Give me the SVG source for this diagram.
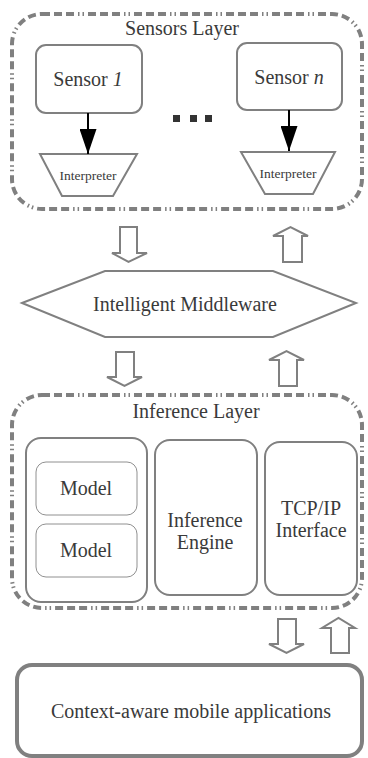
<svg xmlns="http://www.w3.org/2000/svg" width="368" height="758" viewBox="0 0 368 758" font-family="'Liberation Serif', 'DejaVu Serif', serif">
<defs>
<style>
.layer{fill:none;stroke:#808080;stroke-width:4;stroke-dasharray:8 4 8 4 8 4 1.5 3 1.5 4}
.box{fill:#fff;stroke:#808080;stroke-width:2}
.thin{fill:#fff;stroke:#909090;stroke-width:1}
.blk{fill:#fff;stroke:#808080;stroke-width:2;stroke-linejoin:miter}
text{font-family:'Liberation Serif','DejaVu Serif',serif;fill:#3a3a3a;text-anchor:middle}
.t20{font-size:20px}
.t13{font-size:13.5px}
</style>
<marker id="ah" viewBox="0 0 25 17" refX="25" refY="8.5" markerWidth="25" markerHeight="17" orient="auto" markerUnits="userSpaceOnUse">
<path d="M0,0 L25,8.5 L0,17 Z" fill="#000"/>
</marker>
</defs>

<g id="sensors-layer">
<rect class="layer" x="12" y="14" width="350" height="195" rx="30"/>
<text class="t20" x="182" y="35" font-family="'Liberation Serif', serif">Sensors Layer</text>
</g>
<g id="sensor1">
<rect class="box" x="36" y="45" width="106" height="68" rx="10"/>
<text class="t20" x="88" y="86" font-family="'Liberation Serif', serif">Sensor <tspan font-style="italic">1</tspan></text>
</g>
<g id="sensorn">
<rect class="box" x="237" y="43" width="105" height="67" rx="10"/>
<text class="t20" x="289" y="84" font-family="'Liberation Serif', serif">Sensor <tspan font-style="italic">n</tspan></text>
</g>
<g id="dots" fill="#333">
<rect x="173" y="115" width="7" height="7"/>
<rect x="190" y="115" width="7" height="7"/>
<rect x="205" y="115" width="7" height="7"/>
</g>
<g id="interpreter1">
<polygon class="box" points="40,154 137,154 113,196 62,196"/>
<text class="t13" x="88" y="180" font-family="'Liberation Serif', serif">Interpreter</text>
</g>
<g id="interpretern">
<polygon class="box" points="241,152 335,152 313,194 265,194"/>
<text class="t13" x="288" y="178" font-family="'Liberation Serif', serif">Interpreter</text>
</g>

<g id="middleware">
<polygon class="box" points="22,303 105,271 273,271 356,303 273,337 105,337"/>
<text class="t20" x="185" y="311" font-family="'Liberation Serif', serif">Intelligent Middleware</text>
</g>

<g id="inference-layer">
<rect class="layer" x="12" y="395" width="350" height="213" rx="30"/>
<text class="t20" x="196" y="418" font-family="'Liberation Serif', serif">Inference Layer</text>
</g>
<g id="models">
<rect class="box" x="26" y="438" width="121" height="164" rx="15"/>
</g>
<g id="model1">
<rect class="thin" x="36" y="462" width="101" height="53" rx="10"/>
<text class="t20" x="86" y="495" font-family="'Liberation Serif', serif">Model</text>
</g>
<g id="model2">
<rect class="thin" x="36" y="524" width="101" height="53" rx="10"/>
<text class="t20" x="86" y="557" font-family="'Liberation Serif', serif">Model</text>
</g>
<g id="engine">
<rect class="box" x="155" y="440" width="102" height="155" rx="15"/>
<text class="t20" x="205" y="527" font-family="'Liberation Serif', serif">Inference</text>
<text class="t20" x="205" y="549" font-family="'Liberation Serif', serif">Engine</text>
</g>
<g id="tcpip">
<rect class="box" x="265" y="442" width="92" height="153" rx="15"/>
<text class="t20" x="311" y="515" font-family="'Liberation Serif', serif">TCP/IP</text>
<text class="t20" x="311" y="537" font-family="'Liberation Serif', serif">Interface</text>
</g>

<g id="apps">
<rect x="17" y="665" width="345" height="91" rx="15" fill="#fff" stroke="#808080" stroke-width="4"/>
<text class="t20" x="191" y="718" font-family="'Liberation Serif', serif">Context-aware mobile applications</text>
</g>

<g id="connectors">
<line x1="88" y1="113" x2="88" y2="154" stroke="#000" stroke-width="2" marker-end="url(#ah)"/>
<line x1="289" y1="110" x2="289" y2="151" stroke="#000" stroke-width="2" marker-end="url(#ah)"/>
<polygon class="blk" points="120,227 137,227 137,253 147,253 128.5,262 112,253 120,253"/>
<polygon class="blk" points="283,262 302,262 302,236 308,236 290.5,227 273,236 283,236"/>
<polygon class="blk" points="116,352 134,352 134,377 142,377 124.5,386 107,377 116,377"/>
<polygon class="blk" points="279,386 297,386 297,360 304,360 286.5,351 269,360 279,360"/>
<polygon class="blk" points="278,619 296,619 296,644 304,644 286.5,653 269,644 278,644"/>
<polygon class="blk" points="331,653 349,653 349,628 355,628 338.5,618 322,628 331,628"/>
</g>
</svg>
